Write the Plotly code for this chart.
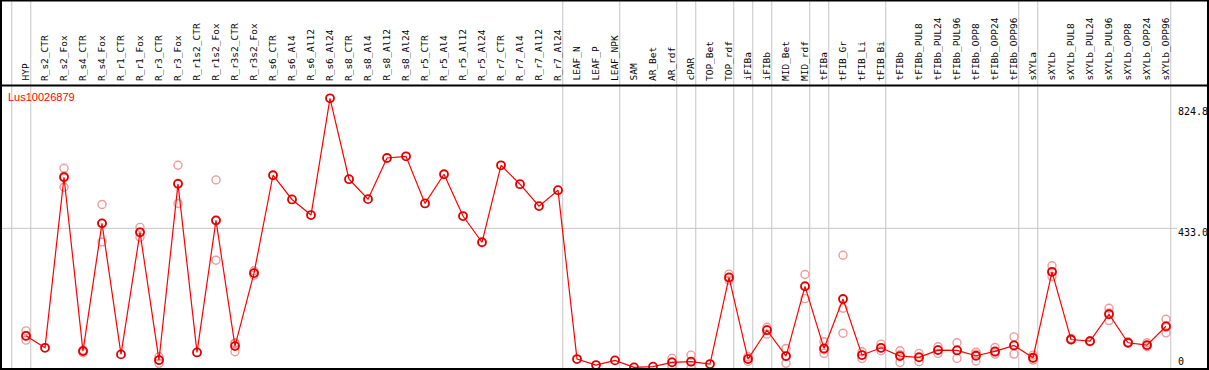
import plotly.graph_objects as go

W, H = 1209, 370

categories = [
    "HYP", "R_s2_CTR", "R_s2_Fox", "R_s4_CTR", "R_s4_Fox", "R_r1_CTR", "R_r1_Fox",
    "R_r3_CTR", "R_r3_Fox", "R_r1s2_CTR", "R_r1s2_Fox", "R_r3s2_CTR", "R_r3s2_Fox",
    "R_s6_CTR", "R_s6_Al4", "R_s6_Al12", "R_s6_Al24", "R_s8_CTR", "R_s8_Al4",
    "R_s8_Al12", "R_s8_Al24", "R_r5_CTR", "R_r5_Al4", "R_r5_Al12", "R_r5_Al24",
    "R_r7_CTR", "R_r7_Al4", "R_r7_Al12", "R_r7_Al24", "LEAF_N", "LEAF_P", "LEAF_NPK",
    "SAM", "AR_Bet", "AR_rdf", "cPAR", "TOP_Bet", "TOP_rdf", "iFIBa", "iFIBb",
    "MID_Bet", "MID_rdf", "tFIBa", "tFIB_Gr", "tFIB_Li", "tFIB_Bi", "tFIBb",
    "tFIBb_PUL8", "tFIBb_PUL24", "tFIBb_PUL96", "tFIBb_OPP8", "tFIBb_OPP24",
    "tFIBb_OPP96", "sXYLa", "sXYLb", "sXYLb_PUL8", "sXYLb_PUL24", "sXYLb_PUL96",
    "sXYLb_OPP8", "sXYLb_OPP24", "sXYLb_OPP96",
]

mean_values = [
    109, 73, 587, 63, 448, 53, 421, 36, 567, 59, 457, 78, 298,
    593, 520, 473, 824.8, 581, 521, 645, 650, 508, 596, 470, 391,
    623, 566, 500, 548, 39, 21, 35,
    14, 16, 29, 31, 24, 285, 39, 126,
    48, 258, 71, 220, 51, 73, 48,
    44, 66, 65, 49, 62, 80,
    43, 302, 98, 93, 174, 88, 81, 138,
]

rep1 = [
    124, None, 614, 66, 505, None, 436, 46, 623, None, 579, 88, 305,
    None, None, None, None, None, None, None, None, None, None, None, None,
    None, None, None, None, None, None, None,
    None, None, 41, 51, None, 295, 46, 135,
    71, 294, 91, 352, 61, 84, 64,
    56, 76, 88, 60, 74, 106,
    51, 320, 101, 94, 192, 91, 88, 159,
]
rep2 = [
    108, None, 590, 63, 448, None, 421, 36, 569, None, 456, 85, 298,
    None, None, None, None, None, None, None, None, None, None, None, None,
    None, None, None, None, None, None, None,
    None, None, 30, 31, None, 284, 40, 128,
    47, 260, 67, 192, 51, 72, 52,
    46, 67, 67, 54, 59, 81,
    42, 301, 98, 92, 178, 89, 80, 134,
]
rep3 = [
    96, None, 557, 58, 392, None, 406, 26, 508, None, 337, 61, 292,
    None, None, None, None, None, None, None, None, None, None, None, None,
    None, None, None, None, None, None, None,
    None, None, 16, 11, None, 277, 32, 114,
    26, 221, 56, 117, 41, 64, 29,
    31, 56, 41, 33, 54, 54,
    36, 288, 97, 91, 155, 88, 76, 118,
]

separators_after = [-1, 0, 28, 31, 34, 35, 37, 38, 39, 41, 42, 45, 52, 53, 60]
gene = "Lus10026879"
y_labels = ["824.8", "433.0", "0"]
grid_value = 433.0

idx = list(range(len(categories)))

# pixel mapping helpers
X0 = -26 / 19
X1 = (W - 26) / 19
PXU = 0.3318          # pixels per unit
ZERO_PX = 372.0       # pixel row of value 0
Y_TOP = ZERO_PX / PXU
Y_BOT = (ZERO_PX - H) / PXU


def py(p):  # pixel row -> paper
    return 1 - p / H


def px(p):  # pixel column -> paper
    return p / W


fig = go.Figure()

rx, ry = [], []
for i in idx:
    for r in (rep1, rep2, rep3):
        if r[i] is not None:
            rx.append(i)
            ry.append(r[i])

fig.add_trace(go.Scatter(
    x=rx, y=ry, mode="markers",
    marker=dict(symbol="circle-open", size=8, color="rgba(235,120,120,0.75)",
                line=dict(width=1.4)),
    hoverinfo="skip",
))
fig.add_trace(go.Scatter(
    x=idx, y=mean_values, mode="lines+markers",
    line=dict(color="#ff0000", width=1.2),
    marker=dict(symbol="circle-open", size=8, color="#e00000", line=dict(width=1.8)),
))

shapes = []
for s in separators_after:
    shapes.append(dict(type="line", xref="x", yref="paper", x0=s + 0.25, x1=s + 0.25,
                       y0=py(369), y1=1, line=dict(color="#c4c4c4", width=1), layer="below"))
shapes.append(dict(type="line", xref="paper", yref="y", x0=px(1), x1=px(1177),
                   y0=grid_value, y1=grid_value, line=dict(color="#c4c4c4", width=1), layer="below"))
# borders
black = dict(color="black", width=2)
shapes += [
    dict(type="line", xref="paper", yref="paper", x0=px(1), x1=px(1), y0=0, y1=1, line=black),
    dict(type="line", xref="paper", yref="paper", x0=px(1208), x1=px(1208), y0=0, y1=1, line=black),
    dict(type="line", xref="paper", yref="paper", x0=0, x1=1, y0=py(0.5), y1=py(0.5), line=black),
    dict(type="line", xref="paper", yref="paper", x0=0, x1=1, y0=py(85.5), y1=py(85.5), line=black),
    dict(type="line", xref="paper", yref="paper", x0=0, x1=1, y0=py(369), y1=py(369), line=black),
]

annotations = []
for i, c in enumerate(categories):
    annotations.append(dict(
        x=i - 0.05, xref="x", y=py(83), yref="paper", text=c, textangle=-90,
        xanchor="center", yanchor="bottom", showarrow=False,
        font=dict(family="DejaVu Sans Mono", size=9.5, color="black"),
    ))
annotations.append(dict(
    x=px(6), y=py(97.5), xref="paper", yref="paper", text=gene, xanchor="left",
    yanchor="middle", showarrow=False,
    font=dict(family="Liberation Sans", size=11, color="#ff0000"),
))
ylab_px = [111.5, 232, 361.5]
for t, yp in zip(y_labels, ylab_px):
    annotations.append(dict(
        x=px(1176), y=py(yp), xref="paper", yref="paper", text=t, xanchor="left",
        yanchor="middle", showarrow=False,
        font=dict(family="DejaVu Sans Mono", size=10, color="black"),
    ))

fig.update_layout(
    width=W, height=H,
    margin=dict(l=0, r=0, t=0, b=0),
    paper_bgcolor="white", plot_bgcolor="white",
    showlegend=False,
    xaxis=dict(range=[X0, X1], visible=False, domain=[0, 1], fixedrange=True),
    yaxis=dict(range=[Y_BOT, Y_TOP], visible=False, domain=[0, 1], fixedrange=True),
    shapes=shapes, annotations=annotations,
)

fig.write_html("out.html", config={"displayModeBar": False})

# remove the default page margin so the figure sits at the window's top-left corner
with open("out.html", "r", encoding="utf-8") as f:
    html = f.read()
html = html.replace("<head>", "<head><style>html,body{margin:0;padding:0;overflow:hidden;}</style>", 1)
with open("out.html", "w", encoding="utf-8") as f:
    f.write(html)
